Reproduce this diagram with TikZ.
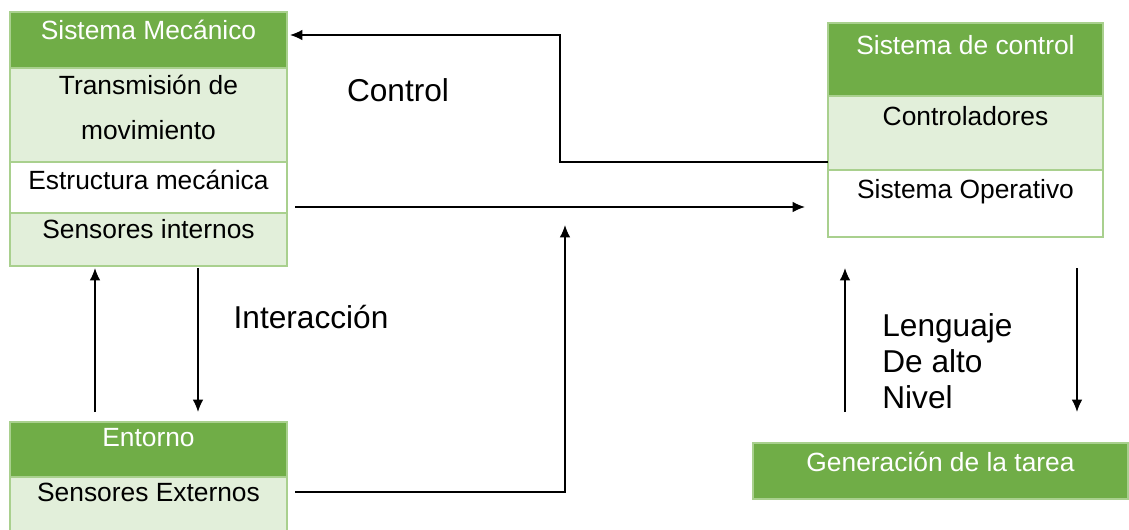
\documentclass[tikz,border=0pt]{standalone}
\usepackage{fontspec}
\setmainfont{Liberation Sans}
\usepackage{tikz}
\usetikzlibrary{arrows.meta}
\definecolor{verde}{HTML}{70AD47}
\definecolor{verdeclaro}{HTML}{E2EFDA}
\definecolor{borde}{HTML}{A9D08E}

\begin{document}
\begin{tikzpicture}[x=0.02cm, y=-0.02cm,
  cab/.style={fill=verde, draw=borde, line width=.6pt},
  fila/.style={fill=verdeclaro, draw=borde, line width=.6pt},
  blanca/.style={fill=white, draw=borde, line width=.6pt},
  tcab/.style={text=white, font=\fontsize{15}{18}\selectfont, inner sep=0pt},
  tfila/.style={font=\fontsize{15}{18}\selectfont, inner sep=0pt},
  etiq/.style={font=\fontsize{18}{20.5}\selectfont, inner sep=0pt},
  flecha/.style={line width=.8pt, -{Latex[length=7pt, width=6pt]}}]
\useasboundingbox (0,0) rectangle (1129,529);
\draw[cab] (10,12) rectangle (287,68);
\draw[fila] (10,68) rectangle (287,162);
\draw[blanca] (10,162) rectangle (287,213);
\draw[fila] (10,213) rectangle (287,266);
\node[tcab] (mec) at (148.5,30) {Sistema Mecánico};
\node[tfila] (tra) at (148.5,85) {Transmisión de};
\node[tfila] (mov) at (148.5,130) {movimiento};
\node[tfila] (est) at (148.5,180) {Estructura mecánica};
\node[tfila] (sin) at (148.5,229) {Sensores internos};
\draw[cab] (828,23) rectangle (1103,96);
\draw[fila] (828,96) rectangle (1103,170);
\draw[blanca] (828,170) rectangle (1103,237);
\node[tcab] (sc) at (965.5,45) {Sistema de control};
\node[tfila] (con) at (965.5,116) {Controladores};
\node[tfila] (so) at (965.5,192) {Sistema Operativo};
\draw[cab] (10,422) rectangle (287,477);
\draw[fila] (10,477) rectangle (287,535);
\node[tcab] (ent) at (148.5,438) {Entorno};
\node[tfila] (sex) at (148.5,492) {Sensores Externos};
\draw[cab] (753,443) rectangle (1128,499);
\node[tcab] (gen) at (940.5,462) {Generación de la tarea};
\node[etiq] (lcon) at (398,90) {Control};
\node[etiq] (lint) at (311,317) {Interacción};
\node[etiq, align=left, anchor=west] (llen) at (882,361) {Lenguaje\\De alto\\Nivel};
\coordinate (c1) at (828,162);
\coordinate (c2) at (290,35);
\coordinate (e1) at (295,207);
\coordinate (e2) at (805,207);
\coordinate (x1) at (295,492);
\coordinate (x2) at (565,225);
\draw[flecha] (c1) -| (560,35) -- (c2);
\draw[flecha] (e1) -- (e2);
\draw[flecha] (x1) -| (x2);
\draw[flecha] (95,412) -- (95,268);
\draw[flecha] (198,268) -- (198,412);
\draw[flecha] (845,412) -- (845,268);
\draw[flecha] (1077,268) -- (1077,412);
\end{tikzpicture}
\end{document}
